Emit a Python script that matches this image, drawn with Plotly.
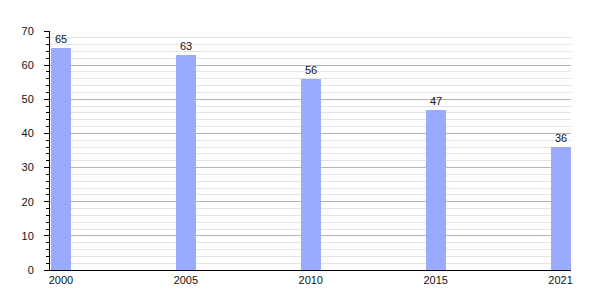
import plotly.graph_objects as go

years = ["2000", "2005", "2010", "2015", "2021"]
values = [65, 63, 56, 47, 36]
positions = list(range(len(years)))

fig = go.Figure(go.Bar(
    x=positions, y=values, width=0.16,
    marker=dict(color="#99aaff", line=dict(width=0)),
    text=[str(v) for v in values], textposition="outside",
    textfont=dict(family="Liberation Sans, Arial", size=11, color="#111111"),
    cliponaxis=False,
))
fig.update_layout(
    width=600, height=300,
    margin=dict(l=50, r=29, t=31, b=30),
    paper_bgcolor="white", plot_bgcolor="white",
    showlegend=False, bargap=0,
    font=dict(family="Liberation Sans, Arial", size=11, color="#111111"),
)
fig.update_xaxes(
    range=[-0.088, 4.084], tickmode="array", tickvals=positions, ticktext=years,
    showgrid=False, zeroline=False, showline=True, linecolor="black", linewidth=1,
    ticks="", ticklabelstandoff=0,
    tickfont=dict(family="Liberation Sans, Arial", size=11, color="#111111"),
)
fig.update_yaxes(
    range=[0, 70], dtick=10, showline=True, linecolor="black", linewidth=1,
    ticks="outside", ticklen=5, tickcolor="black", ticklabelstandoff=8,
    gridcolor="#b4b4b4", gridwidth=1, zeroline=False,
    minor=dict(dtick=2, showgrid=True, gridcolor="#e4e4e4", ticks="outside",
               ticklen=3, tickcolor="black"),
    tickfont=dict(family="Liberation Sans, Arial", size=11, color="#111111"),
)
fig.write_html("out.html")
